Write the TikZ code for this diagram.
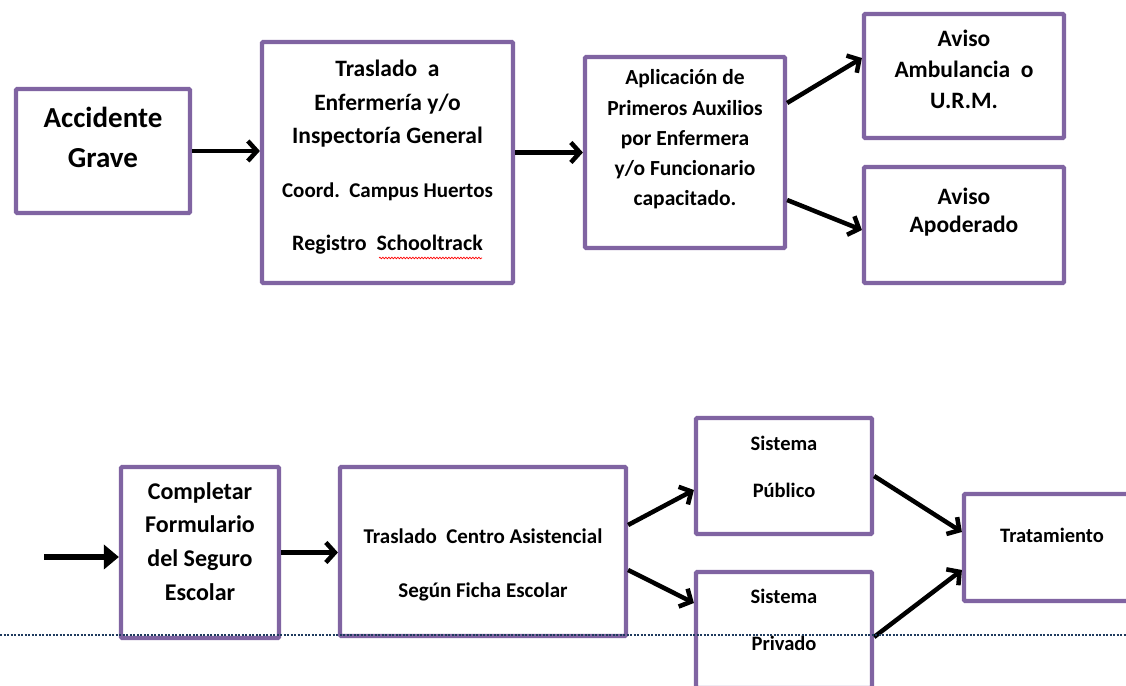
\documentclass[tikz,border=0pt]{standalone}
\usepackage{fontspec}
\setmainfont{Carlito}
\usepackage{tikz}
\usetikzlibrary{positioning}
\usetikzlibrary{arrows.meta}
\usetikzlibrary{decorations.pathmorphing}
\definecolor{boxpurple}{HTML}{8064A2}
\definecolor{dotblue}{HTML}{1F3B5E}

\begin{document}
\begin{tikzpicture}[x=1pt, y=1pt,
			internal/.style={draw=boxpurple, line width=4.2pt, rectangle, rounded corners=1pt, fill=white},
			boxtext/.style={align=center, inner sep=0pt},
			flow/.style={line width=4.5pt, -{Straight Barb[length=9pt, width=20pt]}},
			every text node part/.style={align=center}]
			\clip (0,0) rectangle (1126,685);
			\fill[white] (0,0) rectangle (1126,685);

			% upper row
			\node[internal, minimum width=174pt, minimum height=124pt](node1) at (103, 534) {};
			\node[boxtext, font=\bfseries\fontsize{29}{40}\selectfont](node1t) at ([yshift=14pt]node1.center) {Accidente\\Grave};

			\node[internal, minimum width=251pt, minimum height=241pt](node2) at (387.5, 522.5) {};
			\node[boxtext, font=\bfseries\fontsize{23.5}{33.5}\selectfont](node2t) at ([yshift=5pt]node2.center) {Traslado\ \ a\\Enfermería y/o\\Inspectoría General\\[20pt]{\fontsize{21}{33.5}\selectfont Coord.\ \ Campus Huertos}\\[20pt]{\fontsize{22}{33.5}\selectfont Registro\ \ Schooltrack}};
			\draw[red, line width=0.7pt, decorate, decoration={snake, amplitude=0.8pt, segment length=3pt}] (379,427) -- (482,427);

			\node[internal, minimum width=200pt, minimum height=191pt](node3) at (685, 532.5) {};
			\node[boxtext, font=\bfseries\fontsize{21.5}{30.3}\selectfont](node3t) at ([yshift=13pt]node3.center) {Aplicación de\\Primeros Auxilios\\por Enfermera\\y/o Funcionario\\capacitado.};

			\node[internal, minimum width=200pt, minimum height=124pt](node4) at (964, 609) {};
			\node[boxtext, font=\bfseries\fontsize{23.5}{31}\selectfont](node4t) at ([yshift=7pt]node4.center) {Aviso\\Ambulancia\ \ o\\U.R.M.};

			\node[internal, minimum width=200pt, minimum height=116pt](node5) at (964, 460) {};
			\node[boxtext, font=\bfseries\fontsize{23.5}{28}\selectfont](node5t) at ([yshift=13pt]node5.center) {Aviso\\Apoderado};

			\draw[flow] (node1.east) -- (node1.east -| node2.west);
			\draw[flow] (node2.east |- node3.west) -- (node3.west);
			\draw[flow] ([yshift=49.5pt]node3.east) -- ([yshift=18pt]node4.west);
			\draw[flow] ([yshift=-47.5pt]node3.east) -- ([yshift=-5pt]node5.west);

			% lower row
			\node[internal, minimum width=158pt, minimum height=171pt](node6) at (200, 132.5) {};
			\node[boxtext, font=\bfseries\fontsize{24}{33.7}\selectfont](node6t) at ([yshift=11pt]node6.center) {Completar\\Formulario\\del Seguro\\Escolar};

			\node[internal, minimum width=286pt, minimum height=169pt](node7) at (483, 133.5) {};
			\node[boxtext, font=\bfseries\fontsize{21}{54}\selectfont](node7t) at ([yshift=-13.5pt]node7.center) {Traslado\ \ Centro Asistencial\\Según Ficha Escolar};

			\node[internal, minimum width=176pt, minimum height=116pt](node8) at (784, 209) {};
			\node[boxtext, font=\bfseries\fontsize{20.5}{47}\selectfont](node8t) at ([yshift=9.5pt]node8.center) {Sistema\\Público};

			\node[internal, minimum width=176pt, minimum height=116pt](node9) at (784, 55) {};
			\node[boxtext, font=\bfseries\fontsize{20.5}{47}\selectfont](node9t) at ([yshift=10.5pt]node9.center) {Sistema\\Privado};

			\node[internal, minimum width=176pt, minimum height=107pt](node10) at (1052, 137.5) {};
			\node[boxtext, font=\bfseries\fontsize{20.5}{25}\selectfont](node10t) at ([yshift=12.5pt]node10.center) {Tratamiento};

			\coordinate (start) at (44, 128);
			\draw[line width=6pt, -{Triangle[length=15pt, width=24pt]}] (start) -- ([yshift=-4.5pt]node6.west);
			\draw[flow] (node6.east) -- (node6.east -| node7.west);
			\draw[flow] ([yshift=26.5pt]node7.east) -- ([yshift=-14pt]node8.west);
			\draw[flow] ([yshift=-18.5pt]node7.east) -- ([yshift=27pt]node9.west);
			\draw[flow] (node8.east) -- ([yshift=15.5pt]node10.west);
			\draw[flow] ([yshift=-7pt]node9.east) -- ([yshift=-22.5pt]node10.west);

			% dotted rule
			\coordinate (ruleL) at (0, 50);
			\coordinate (ruleR) at (1126, 50);
			\draw[dotblue, line width=1.6pt, dash pattern=on 2pt off 1.5pt] (ruleL) -- (ruleR);
			\end{tikzpicture}
\end{document}
